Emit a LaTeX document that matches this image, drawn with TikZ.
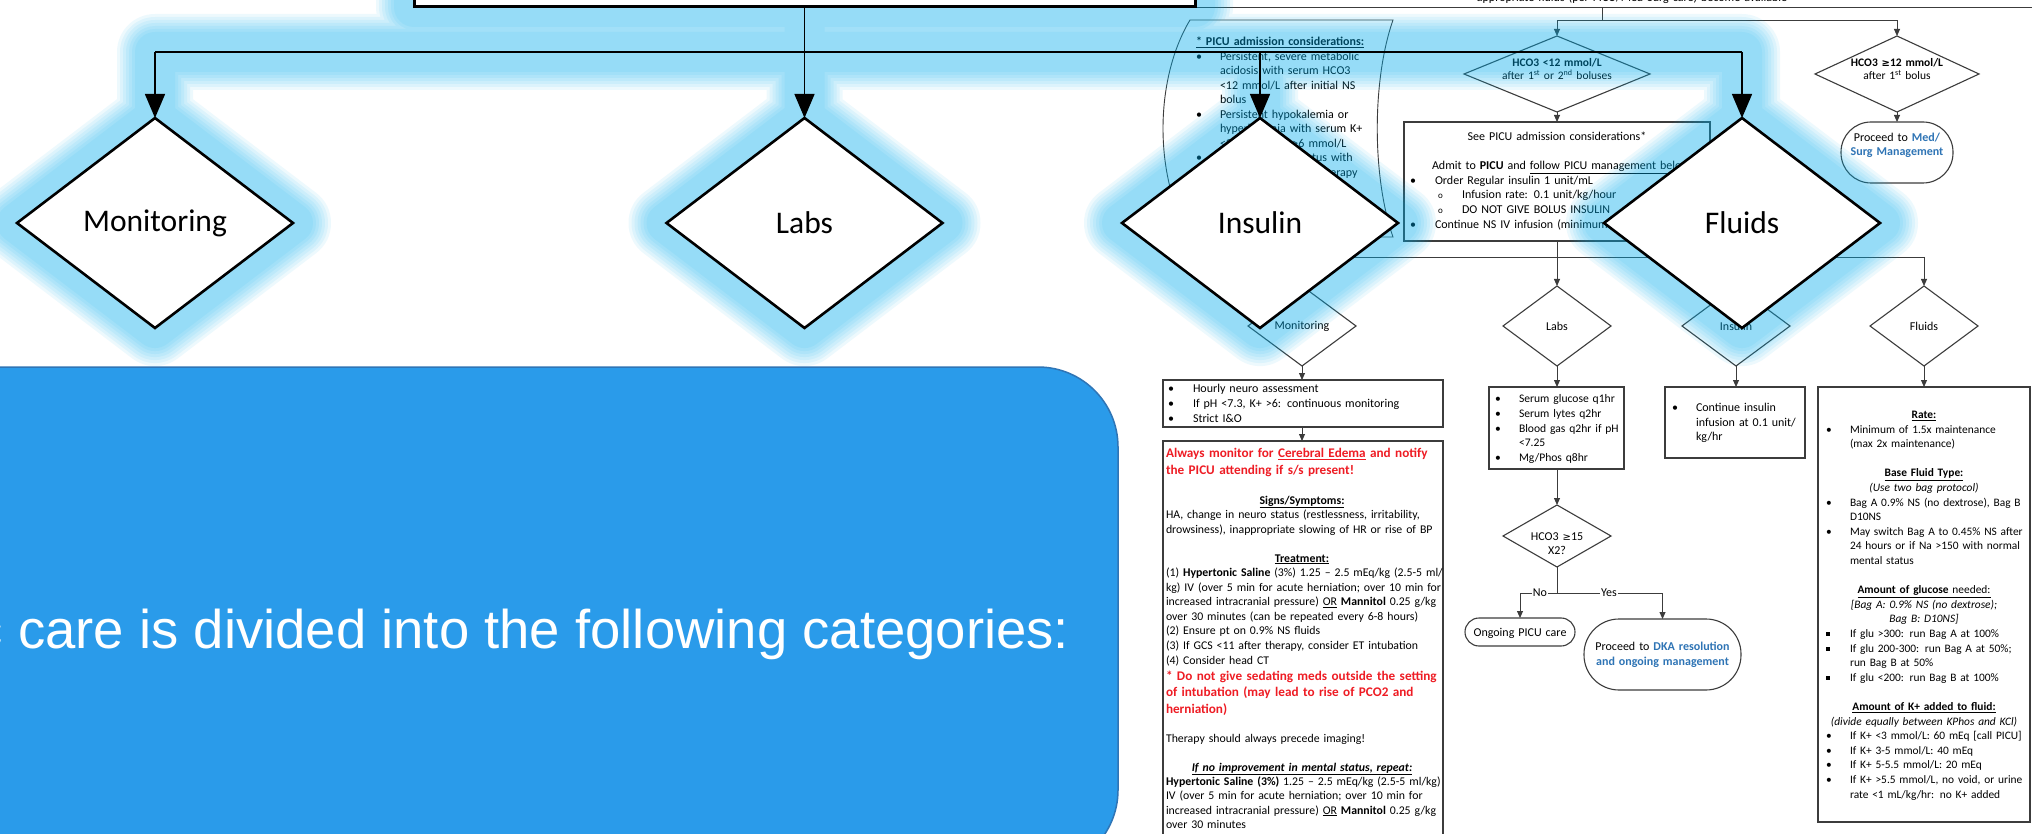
\documentclass[tikz,border=0pt]{standalone}
\usepackage{fontspec}
\setmainfont{Carlito}
\newfontfamily\panelfont{Liberation Sans}
\newfontfamily\symfont{DejaVu Sans}
\usetikzlibrary{shapes.geometric,arrows.meta}

\definecolor{lnk}{RGB}{46,116,181}
\definecolor{alertred}{RGB}{238,28,36}
\definecolor{glowblue}{RGB}{0,176,240}
\definecolor{panelfill}{RGB}{42,155,234}
\definecolor{paneledge}{RGB}{47,117,182}
\definecolor{uline}{RGB}{60,60,60}

\pgfdeclarelayer{under}
\pgfdeclarelayer{glowlayer}
\pgfsetlayers{under,glowlayer,main}

\newcommand\gesym{{\symfont\fontsize{10}{12}\selectfont\char"2265}}
\newcommand\bul[1]{\makebox[#1pt][l]{•}}
\newcommand\sqbul[1]{\makebox[#1pt][l]{\rule[1.6pt]{3.6pt}{3.6pt}}}
\newcommand\hollow[1]{\makebox[#1pt][l]{\fontsize{9}{10}\selectfont o}}
\newcommand\hind[1]{\hspace*{#1pt}}
\newcommand\ctr[2]{\makebox[#1pt][c]{#2}}

\begin{document}
\begin{tikzpicture}[x=1pt,y=-1pt,
  ubx/.style={draw=uline,line width=1.1pt,fill=white,inner sep=0,outer sep=0},
  sdm/.style={diamond,draw=uline,line width=1.1pt,fill=white,inner sep=0,outer sep=0},
  ulink/.style={draw=uline,line width=0.9pt},
  uarr/.style={ulink,-{Triangle[width=6pt,length=7pt]}},
  txt/.style={inner sep=0,outer sep=0,anchor=base west,text width=330pt,align=left,font=\fontsize{12}{14.6}\selectfont},
  ctxt/.style={inner sep=0,outer sep=0,anchor=base,text width=#1,align=center,font=\fontsize{12}{14.6}\selectfont},
  stxt/.style={inner sep=0,font=\fontsize{12}{14}\selectfont},
  bigdm/.style={diamond,draw=black,line width=2.6pt,fill=white,inner sep=0,outer sep=0,minimum width=276,minimum height=210},
  bigtxt/.style={font=\fontsize{31.5}{36}\selectfont,inner sep=0},
  bigline/.style={draw=black,line width=1.4pt},
  bigarr/.style={bigline,-{Triangle[width=20pt,length=24pt]}},
]
\useasboundingbox (0,0) rectangle (2032,834);

% ---------------- underlying DKA flowchart ----------------
\begin{pgfonlayer}{under}
\fill[white] (0,0) rectangle (2032,834);

% banner box at the top
\node[ubx,minimum width=945,minimum height=60] (banner) at (1572.5,-22.5) {};
\node[ctxt=500pt] (bannerTxt) at (1632,2) {appropriate fluids (per PICU/Med Surg care) become available};

% bicarbonate decision
\coordinate (bnDrop) at (1602,20);
\node[sdm,minimum width=186,minimum height=76] (hcoLow) at (1557,74) {};
\node[sdm,minimum width=164,minimum height=76] (hcoHigh) at (1897,74) {};
\draw[ulink] (banner.south -| bnDrop) -- (bnDrop);
\draw[uarr] (bnDrop) -| (hcoLow.north);
\draw[uarr] (bnDrop) -| (hcoHigh.north);
\node[ctxt=180pt,font=\fontsize{11.5}{12.5}\selectfont] (hcoLowTxt) at (1557,67)
  {\textbf{HCO3 <12 mmol/L}\\after 1\textsuperscript{st} or 2\textsuperscript{nd} boluses};
\node[ctxt=160pt,font=\fontsize{11.5}{12.5}\selectfont] (hcoHighTxt) at (1897,67)
  {\textbf{HCO3 \gesym12 mmol/L}\\after 1\textsuperscript{st} bolus};

% PICU admission box
\node[ubx,minimum width=306,minimum height=119] (picuBox) at (1557,181.5) {};
\draw[uarr] (hcoLow.south) -- (picuBox.north);
\node[txt] (picuTxt) at (1410,140.5) {%
\ctr{294}{See PICU admission considerations*}\\
\mbox{}\\
\hind{22}Admit to \textbf{PICU} and \underline{follow PICU management below}\\
\bul{25}Order Regular insulin 1 unit/mL\\
\hind{28}\hollow{24}Infusion rate: 0.1 unit/kg/hour\\
\hind{28}\hollow{24}DO NOT GIVE BOLUS INSULIN\\
\bul{25}Continue NS IV infusion (minimum};

% Med/Surg terminator
\node[ubx,rounded corners=30,minimum width=112,minimum height=61] (medSurg) at (1897,152.5) {};
\draw[uarr] (hcoHigh.south) -- (medSurg.north);
\node[ctxt=108pt,font=\fontsize{12}{14}\selectfont] (medSurgTxt) at (1897,141.5)
  {Proceed to \textcolor{lnk}{\textbf{Med/}}\\\textcolor{lnk}{\textbf{Surg Management}}};

% stored-data shape with admission criteria
\draw[ulink,fill=white] (1190,20) -- (1393,20) .. controls (1372,80) and (1372,177) .. (1393,237)
  -- (1190,237) .. controls (1154,177) and (1154,80) .. (1190,20) -- cycle;
\node[txt,font=\fontsize{12}{14.55}\selectfont] (considTxt) at (1196,45.5) {%
\textbf{\underline{* PICU admission considerations:}}\\
\bul{24}Persistent, severe metabolic\\
\hind{24}acidosis with serum HCO3\\
\hind{24}<12 mmol/L after initial NS\\
\hind{24}bolus\\
\bul{24}Persistent hypokalemia or\\
\hind{24}hyperkalemia with serum K+\\
\hind{24}<3 mmol/L or >6 mmol/L\\
\bul{24}Altered mental status with\\
\hind{24}at any point during therapy};

% branch to the four management categories
\coordinate (tr) at (1557,257);
\coordinate (trL) at (1302,257);
\coordinate (trI) at (1736,257);
\coordinate (trR) at (1924,257);
\node[sdm,minimum width=108,minimum height=80] (monS) at (1302,326) {};
\node[sdm,minimum width=108,minimum height=80] (labS) at (1557,326) {};
\node[sdm,minimum width=108,minimum height=80] (insS) at (1736,326) {};
\node[sdm,minimum width=108,minimum height=80] (fluS) at (1924,326) {};
\node[stxt] (monSTxt) at (monS) {Monitoring};
\node[stxt] (labSTxt) at (labS) {Labs};
\node[stxt] (insSTxt) at (insS) {Insulin};
\node[stxt] (fluSTxt) at (fluS) {Fluids};
\draw[ulink] (picuBox.south) -- (tr);
\draw[ulink] (trL) -- (trR);
\draw[uarr] (trL) -- (monS.north);
\draw[uarr] (tr) -- (labS.north);
\draw[uarr] (trI) -- (insS.north);
\draw[uarr] (trR) -- (fluS.north);

% monitoring column
\node[ubx,minimum width=280,minimum height=47] (monBox) at (1303,403.5) {};
\node[ubx,minimum width=280,minimum height=459] (cerBox) at (1303,670.5) {};
\draw[uarr] (monS.south) -- (monS.south |- monBox.north);
\draw[uarr] (monS.south |- monBox.south) -- (monS.south |- cerBox.north);
\node[txt,font=\fontsize{12}{15}\selectfont] (monTxt) at (1168,392.5) {%
\bul{25}Hourly neuro assessment\\
\bul{25}If pH <7.3, K+ >6: continuous monitoring\\
\bul{25}Strict I\&O};
\node[txt,font=\fontsize{13.2}{17}\bfseries\selectfont,text=alertred] (cerRedA) at (1166,457.5) {%
Always monitor for \underline{Cerebral Edema} and notify\\
the PICU attending if s/s present!};
\node[txt,font=\fontsize{11.8}{14.55}\selectfont] (cerBody) at (1166,504) {%
\ctr{272}{\textbf{\underline{Signs/Symptoms:}}}\\
HA, change in neuro status (restlessness, irritability,\\
drowsiness), inappropriate slowing of HR or rise of BP\\
\mbox{}\\
\ctr{272}{\textbf{\underline{Treatment:}}}\\
(1) \textbf{Hypertonic Saline} (3\%) 1.25 – 2.5 mEq/kg (2.5-5 ml/\\
kg) IV (over 5 min for acute herniation; over 10 min for\\
increased intracranial pressure) \underline{OR} \textbf{Mannitol} 0.25 g/kg\\
over 30 minutes (can be repeated every 6-8 hours)\\
(2) Ensure pt on 0.9\% NS fluids\\
(3) If GCS <11 after therapy, consider ET intubation\\
(4) Consider head CT};
\node[txt,font=\fontsize{13.2}{16.5}\bfseries\selectfont,text=alertred] (cerRedB) at (1166,680) {%
* Do not give sedating meds outside the setting\\
of intubation (may lead to rise of PCO2 and\\
herniation)};
\node[txt,font=\fontsize{11.8}{14.4}\selectfont] (cerNote) at (1166,742) {Therapy should always precede imaging!};
\node[txt,font=\fontsize{11.8}{14.4}\selectfont] (cerRepeat) at (1166,771) {%
\ctr{272}{\textbf{\textit{\underline{If no improvement in mental status, repeat:}}}}\\
\textbf{Hypertonic Saline (3\%)} 1.25 – 2.5 mEq/kg (2.5-5 ml/kg)\\
IV (over 5 min for acute herniation; over 10 min for\\
increased intracranial pressure) \underline{OR} \textbf{Mannitol} 0.25 g/kg\\
over 30 minutes};

% labs column
\node[ubx,minimum width=135,minimum height=82] (labBox) at (1556.5,428) {};
\draw[uarr] (labS.south) -- (labS.south |- labBox.north);
\node[txt,font=\fontsize{11.6}{14.75}\selectfont] (labTxt) at (1495,402.5) {%
\bul{24}Serum glucose q1hr\\
\bul{24}Serum lytes q2hr\\
\bul{24}Blood gas q2hr if pH\\
\hind{24}<7.25\\
\bul{24}Mg/Phos q8hr};
\node[sdm,minimum width=108,minimum height=62] (hco15) at (1557,536) {};
\draw[uarr] (labS.south |- labBox.south) -- (hco15.north);
\node[ctxt=100pt,font=\fontsize{12}{14}\selectfont] (hco15Txt) at (1557,540) {HCO3 \gesym15\\X2?};
\coordinate (br) at (1557,593);
\node[ubx,rounded corners=14,minimum width=110,minimum height=28] (ongoing) at (1520,632) {};
\node[ubx,rounded corners=35,minimum width=157,minimum height=71] (dka) at (1662.5,654.5) {};
\draw[ulink] (hco15.south) -- (br);
\draw[uarr] (br) -| (ongoing.north);
\draw[uarr] (br) -| (dka.north);
\node[stxt,fill=white,inner sep=1pt] (noLbl) at (1540,593) {No};
\node[stxt,fill=white,inner sep=1pt] (yesLbl) at (1609,593) {Yes};
\node[ctxt=110pt] (ongTxt) at (1520,636.5) {Ongoing PICU care};
\node[ctxt=155pt,font=\fontsize{12}{15}\selectfont] (dkaTxt) at (1662.5,650.5)
  {Proceed to \textcolor{lnk}{\textbf{DKA resolution}}\\\textcolor{lnk}{\textbf{and ongoing management}}};

% insulin column
\node[ubx,minimum width=140,minimum height=71] (insBox) at (1735,422.5) {};
\draw[uarr] (insS.south) -- (insS.south |- insBox.north);
\node[txt,font=\fontsize{12}{14.5}\selectfont] (insTxt) at (1672,411.5) {%
\bul{24}Continue insulin\\
\hind{24}infusion at 0.1 unit/\\
\hind{24}kg/hr};

% fluids column
\node[ubx,minimum width=212,minimum height=435] (fluBox) at (1924,604.5) {};
\draw[uarr] (fluS.south) -- (fluS.south |- fluBox.north);
\node[txt,font=\fontsize{11.4}{14.6}\selectfont] (fluTxt) at (1826,418.5) {%
\ctr{196}{\textbf{\underline{Rate:}}}\\
\bul{24}Minimum of 1.5x maintenance\\
\hind{24}(max 2x maintenance)\\
\mbox{}\\
\ctr{196}{\textbf{\underline{Base Fluid Type:}}}\\
\ctr{196}{\textit{(Use two bag protocol)}}\\
\bul{24}Bag A 0.9\% NS (no dextrose), Bag B\\
\hind{24}D10NS\\
\bul{24}May switch Bag A to 0.45\% NS after\\
\hind{24}24 hours or if Na >150 with normal\\
\hind{24}mental status\\
\mbox{}\\
\ctr{196}{\underline{\textbf{Amount of glucose} needed:}}\\
\ctr{196}{\textit{{[}Bag A: 0.9\% NS (no dextrose);}}\\
\ctr{196}{\textit{Bag B: D10NS{]}}}\\
\sqbul{24}If glu >300: run Bag A at 100\%\\
\sqbul{24}If glu 200-300: run Bag A at 50\%;\\
\hind{24}run Bag B at 50\%\\
\sqbul{24}If glu <200: run Bag B at 100\%\\
\mbox{}\\
\ctr{196}{\textbf{\underline{Amount of K+ added to fluid:}}}\\
\ctr{196}{\textit{(divide equally between KPhos and KCl)}}\\
\bul{24}If K+ <3 mmol/L: 60 mEq [call PICU]\\
\bul{24}If K+ 3-5 mmol/L: 40 mEq\\
\bul{24}If K+ 5-5.5 mmol/L: 20 mEq\\
\bul{24}If K+ >5.5 mmol/L, no void, or urine\\
\hind{24}rate <1 mL/kg/hr: no K+ added};
\end{pgfonlayer}

% ---------------- highlighted category overlay ----------------
\node[draw=black,line width=3pt,fill=white,inner sep=0,outer sep=0,minimum width=781,minimum height=80] (topBox) at (804.5,-33) {};
\node[bigdm] (monBig) at (155,223) {};
\node[bigdm] (labBig) at (804.5,223) {};
\node[bigdm] (insBig) at (1260,223) {};
\node[bigdm] (fluBig) at (1742,223) {};
\node[bigtxt] (monBigTxt) at (monBig) {Monitoring};
\node[bigtxt] (labBigTxt) at (labBig) {Labs};
\node[bigtxt] (insBigTxt) at (insBig) {Insulin};
\node[bigtxt] (fluBigTxt) at (fluBig) {Fluids};
\coordinate (jL) at (155,52);
\coordinate (jI) at (1260,52);
\coordinate (jR) at (1742,52);
\draw[bigline] (jL) -- (jR);
\draw[bigarr] (topBox.south) -- (labBig.north);
\draw[bigarr] (jL) -- (monBig.north);
\draw[bigarr] (jI) -- (insBig.north);
\draw[bigarr] (jR) -- (fluBig.north);

\begin{pgfonlayer}{glowlayer}
\foreach \w in {76,70,64,58,52,46,40}{
  \draw[glowblue,opacity=0.072,line width=\w,line join=round,line cap=round]
    (topBox.south west) rectangle (topBox.north east)
    (topBox.south) -- (labBig.north)
    (jL) -- (jR)
    (jL) -- (monBig.north) (jI) -- (insBig.north) (jR) -- (fluBig.north)
    (monBig.north) -- (monBig.east) -- (monBig.south) -- (monBig.west) -- cycle
    (labBig.north) -- (labBig.east) -- (labBig.south) -- (labBig.west) -- cycle
    (insBig.north) -- (insBig.east) -- (insBig.south) -- (insBig.west) -- cycle
    (fluBig.north) -- (fluBig.east) -- (fluBig.south) -- (fluBig.west) -- cycle;
}
\end{pgfonlayer}

% ---------------- caption panel ----------------
\node[draw=paneledge,line width=1.5pt,fill=panelfill,rounded corners=80,inner sep=0,
      minimum width=1218,minimum height=503] (panel) at (509,618.5) {};
\node[anchor=base west,inner sep=0,text=white,font=\panelfont\fontsize{54.5}{62}\selectfont]
  (panelTxt) at (-24.5,648) {c care is divided into the following categories:};
\end{tikzpicture}
\end{document}
